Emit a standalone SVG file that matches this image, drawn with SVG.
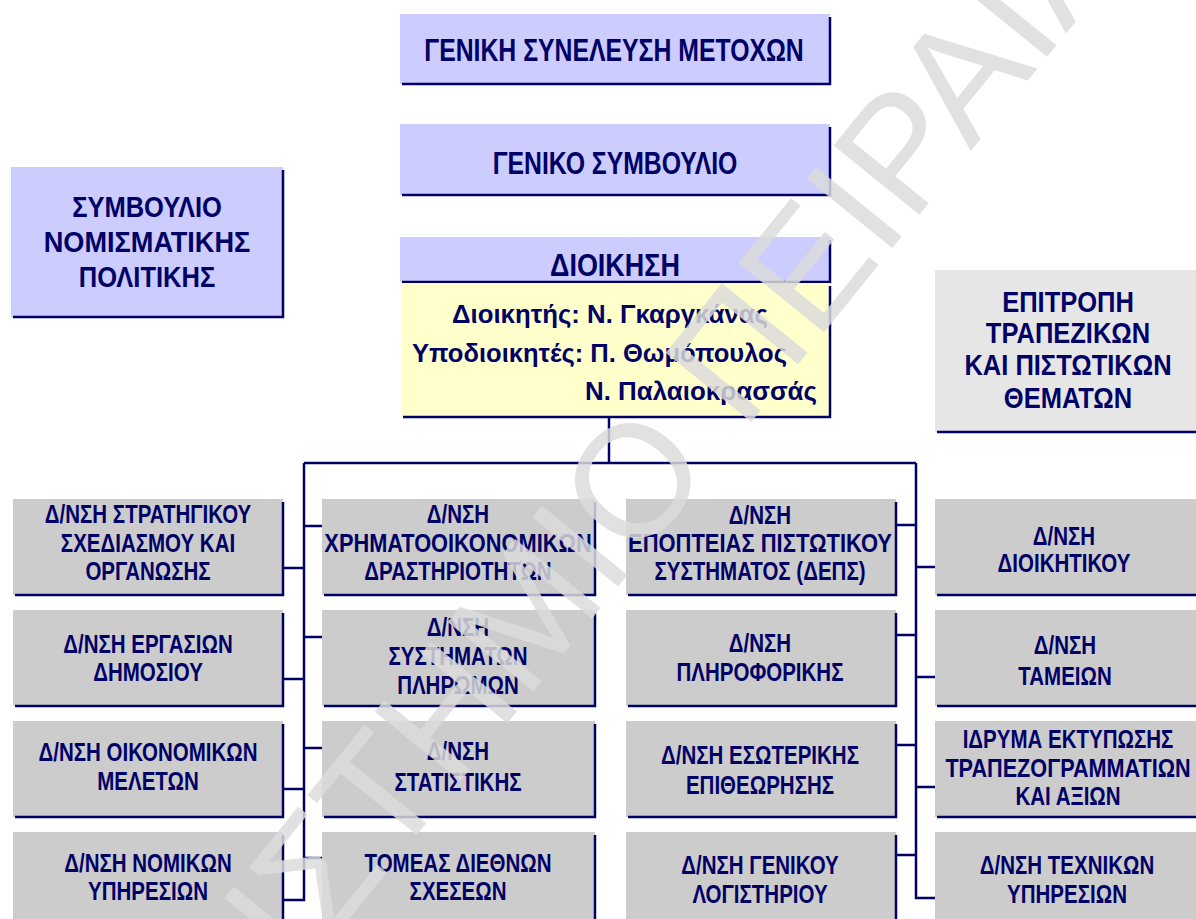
<svg xmlns="http://www.w3.org/2000/svg" width="1196" height="919" viewBox="0 0 1196 919">
<defs>
<style>
.lav{fill:#ccccff}
.yel{fill:#ffffcc}
.gry{fill:#cccccc}
.lgr{fill:#e6e6e6}
.sh{stroke:#000066;stroke-width:2.5;fill:none}
.c{stroke:#000066;stroke-width:2.5;fill:none}
.t{font-family:"Liberation Sans",Arial,sans-serif;font-weight:bold;fill:#000066;text-anchor:middle}
.h{font-size:31px}
.m{font-size:30px}
.s{font-size:25px}
.y{font-family:"Liberation Sans",Arial,sans-serif;font-weight:bold;fill:#000066;font-size:26px}
.wm{font-family:"Liberation Sans",Arial,sans-serif;font-weight:normal;font-size:160px;fill:#dbdbdb;fill-opacity:.84}
</style>
</defs>
<rect width="1196" height="919" fill="#ffffff"/>

<g id="connectors">
<path class="c" d="M609,417 V463 M304,463 H916"/>
<path class="c" d="M304,463 V900 H283 M283,568 H304 M283,679 H304 M283,789 H304 M304,526 H322 M304,637 H322 M304,748 H322 M304,858 H322"/>
<path class="c" d="M916,463 V898 H935 M896,525 H916 M896,635 H916 M896,745 H916 M896,855 H916 M916,567 H935 M916,677 H935 M916,787 H935"/>
</g>

<g id="n-gsm">
<rect class="lav" x="400" y="14" width="430" height="70"/>
<path class="sh" d="M830,17 V84 H402"/>
<g transform="translate(614 0) scale(.8 1)"><text class="t h" y="61">ΓΕΝΙΚΗ ΣΥΝΕΛΕΥΣΗ ΜΕΤΟΧΩΝ</text></g>
</g>

<g id="n-gs">
<rect class="lav" x="400" y="124" width="430" height="71"/>
<path class="sh" d="M830,127 V195 H402"/>
<g transform="translate(615 0) scale(.8 1)"><text class="t h" y="174">ΓΕΝΙΚΟ ΣΥΜΒΟΥΛΙΟ</text></g>
</g>

<g id="n-dioikisi">
<rect class="lav" x="400" y="237" width="430" height="45"/>
<path class="sh" d="M830,240 V282 H402"/>
<text class="t h" x="615" y="276" textLength="130" lengthAdjust="spacingAndGlyphs">ΔΙΟΙΚΗΣΗ</text>
<rect class="yel" x="401" y="283" width="429" height="134"/>
<path class="sh" d="M830,286 V417 H403"/>
<text class="y" x="452" y="323" textLength="316" lengthAdjust="spacingAndGlyphs">Διοικητής: Ν. Γκαργκάνας</text>
<text class="y" x="412" y="362" textLength="375" lengthAdjust="spacingAndGlyphs">Υποδιοικητές: Π. Θωμόπουλος</text>
<text class="y" x="585" y="400" textLength="232" lengthAdjust="spacingAndGlyphs">Ν. Παλαιοκρασσάς</text>
</g>

<g id="n-snp">
<rect class="lav" x="11" y="167" width="272" height="150"/>
<path class="sh" d="M283,170 V317 H13"/>
<g transform="translate(147 0) scale(.85 1)">
<text class="t m" y="217">ΣΥΜΒΟΥΛΙΟ</text>
<text class="t m" y="252" textLength="243" lengthAdjust="spacingAndGlyphs">ΝΟΜΙΣΜΑΤΙΚΗΣ</text>
<text class="t m" y="287">ΠΟΛΙΤΙΚΗΣ</text>
</g>
</g>

<g id="n-etpt">
<rect class="lgr" x="935" y="270" width="265" height="162"/>
<path class="sh" d="M937,432 H1200"/>
<g transform="translate(1068 0) scale(.85 1)">
<text class="t m" y="312">ΕΠΙΤΡΟΠΗ</text>
<text class="t m" y="343">ΤΡΑΠΕΖΙΚΩΝ</text>
<text class="t m" y="375">ΚΑΙ ΠΙΣΤΩΤΙΚΩΝ</text>
<text class="t m" y="408">ΘΕΜΑΤΩΝ</text>
</g>
</g>

<!-- Column 1 -->
<g id="n-c1r1">
<rect class="gry" x="13" y="499" width="270" height="96"/>
<path class="sh" d="M283,502 V595 H15"/>
<g transform="translate(148 0) scale(.82 1)">
<text class="t s" y="523">Δ/ΝΣΗ ΣΤΡΑΤΗΓΙΚΟΥ</text>
<text class="t s" y="552">ΣΧΕΔΙΑΣΜΟΥ ΚΑΙ</text>
<text class="t s" y="580">ΟΡΓΑΝΩΣΗΣ</text>
</g>
</g>
<g id="n-c1r2">
<rect class="gry" x="13" y="610" width="270" height="96"/>
<path class="sh" d="M283,613 V706 H15"/>
<g transform="translate(148 0) scale(.82 1)">
<text class="t s" y="653">Δ/ΝΣΗ ΕΡΓΑΣΙΩΝ</text>
<text class="t s" y="681">ΔΗΜΟΣΙΟΥ</text>
</g>
</g>
<g id="n-c1r3">
<rect class="gry" x="13" y="721" width="270" height="96"/>
<path class="sh" d="M283,724 V817 H15"/>
<g transform="translate(148 0) scale(.82 1)">
<text class="t s" y="761">Δ/ΝΣΗ ΟΙΚΟΝΟΜΙΚΩΝ</text>
<text class="t s" y="790">ΜΕΛΕΤΩΝ</text>
</g>
</g>
<g id="n-c1r4">
<rect class="gry" x="13" y="832" width="270" height="96"/>
<path class="sh" d="M283,835 V928 H15"/>
<g transform="translate(148 0) scale(.82 1)">
<text class="t s" y="872">Δ/ΝΣΗ ΝΟΜΙΚΩΝ</text>
<text class="t s" y="900">ΥΠΗΡΕΣΙΩΝ</text>
</g>
</g>

<!-- Column 2 -->
<g id="n-c2r1">
<rect class="gry" x="322" y="499" width="273" height="96"/>
<path class="sh" d="M595,502 V595 H324"/>
<g transform="translate(458 0) scale(.82 1)">
<text class="t s" y="523">Δ/ΝΣΗ</text>
<text class="t s" y="552" textLength="326" lengthAdjust="spacingAndGlyphs">ΧΡΗΜΑΤΟΟΙΚΟΝΟΜΙΚΩΝ</text>
<text class="t s" y="580">ΔΡΑΣΤΗΡΙΟΤΗΤΩΝ</text>
</g>
</g>
<g id="n-c2r2">
<rect class="gry" x="322" y="610" width="273" height="96"/>
<path class="sh" d="M595,613 V706 H324"/>
<g transform="translate(458 0) scale(.82 1)">
<text class="t s" y="636">Δ/ΝΣΗ</text>
<text class="t s" y="665">ΣΥΣΤΗΜΑΤΩΝ</text>
<text class="t s" y="694">ΠΛΗΡΩΜΩΝ</text>
</g>
</g>
<g id="n-c2r3">
<rect class="gry" x="322" y="721" width="273" height="96"/>
<path class="sh" d="M595,724 V817 H324"/>
<g transform="translate(458 0) scale(.82 1)">
<text class="t s" y="760">Δ/ΝΣΗ</text>
<text class="t s" y="791">ΣΤΑΤΙΣΤΙΚΗΣ</text>
</g>
</g>
<g id="n-c2r4">
<rect class="gry" x="322" y="832" width="273" height="96"/>
<path class="sh" d="M595,835 V928 H324"/>
<g transform="translate(458 0) scale(.82 1)">
<text class="t s" y="872">ΤΟΜΕΑΣ ΔΙΕΘΝΩΝ</text>
<text class="t s" y="900">ΣΧΕΣΕΩΝ</text>
</g>
</g>

<!-- Column 3 -->
<g id="n-c3r1">
<rect class="gry" x="626" y="499" width="270" height="96"/>
<path class="sh" d="M896,502 V595 H628"/>
<g transform="translate(760 0) scale(.82 1)">
<text class="t s" y="524">Δ/ΝΣΗ</text>
<text class="t s" y="552" textLength="322" lengthAdjust="spacingAndGlyphs">ΕΠΟΠΤΕΙΑΣ ΠΙΣΤΩΤΙΚΟΥ</text>
<text class="t s" y="580">ΣΥΣΤΗΜΑΤΟΣ (ΔΕΠΣ)</text>
</g>
</g>
<g id="n-c3r2">
<rect class="gry" x="626" y="610" width="270" height="96"/>
<path class="sh" d="M896,613 V706 H628"/>
<g transform="translate(760 0) scale(.82 1)">
<text class="t s" y="652">Δ/ΝΣΗ</text>
<text class="t s" y="681">ΠΛΗΡΟΦΟΡΙΚΗΣ</text>
</g>
</g>
<g id="n-c3r3">
<rect class="gry" x="626" y="721" width="270" height="96"/>
<path class="sh" d="M896,724 V817 H628"/>
<g transform="translate(760 0) scale(.82 1)">
<text class="t s" y="764">Δ/ΝΣΗ ΕΣΩΤΕΡΙΚΗΣ</text>
<text class="t s" y="794">ΕΠΙΘΕΩΡΗΣΗΣ</text>
</g>
</g>
<g id="n-c3r4">
<rect class="gry" x="626" y="832" width="270" height="96"/>
<path class="sh" d="M896,835 V928 H628"/>
<g transform="translate(760 0) scale(.82 1)">
<text class="t s" y="874">Δ/ΝΣΗ ΓΕΝΙΚΟΥ</text>
<text class="t s" y="903">ΛΟΓΙΣΤΗΡΙΟΥ</text>
</g>
</g>

<!-- Column 4 -->
<g id="n-c4r1">
<rect class="gry" x="935" y="499" width="265" height="96"/>
<path class="sh" d="M937,595 H1200"/>
<g transform="translate(1064 0) scale(.82 1)">
<text class="t s" y="545">Δ/ΝΣΗ</text>
<text class="t s" y="572">ΔΙΟΙΚΗΤΙΚΟΥ</text>
</g>
</g>
<g id="n-c4r2">
<rect class="gry" x="935" y="610" width="265" height="96"/>
<path class="sh" d="M937,706 H1200"/>
<g transform="translate(1065 0) scale(.82 1)">
<text class="t s" y="654">Δ/ΝΣΗ</text>
<text class="t s" y="685">ΤΑΜΕΙΩΝ</text>
</g>
</g>
<g id="n-c4r3">
<rect class="gry" x="935" y="721" width="265" height="96"/>
<path class="sh" d="M937,817 H1200"/>
<g transform="translate(1068 0) scale(.82 1)">
<text class="t s" y="748">ΙΔΡΥΜΑ ΕΚΤΥΠΩΣΗΣ</text>
<text class="t s" y="777" textLength="299" lengthAdjust="spacingAndGlyphs">ΤΡΑΠΕΖΟΓΡΑΜΜΑΤΙΩΝ</text>
<text class="t s" y="805">ΚΑΙ ΑΞΙΩΝ</text>
</g>
</g>
<g id="n-c4r4">
<rect class="gry" x="935" y="832" width="265" height="96"/>
<g transform="translate(1067 0) scale(.82 1)">
<text class="t s" y="874">Δ/ΝΣΗ ΤΕΧΝΙΚΩΝ</text>
<text class="t s" y="903">ΥΠΗΡΕΣΙΩΝ</text>
</g>
</g>

<g id="watermark">
<text class="wm" x="0" y="0" transform="translate(-52 1414) rotate(-51)">ΠΑΝΕΠΙΣΤΗΜΙΟ ΠΕΙΡΑΙΑ</text>
</g>
</svg>
